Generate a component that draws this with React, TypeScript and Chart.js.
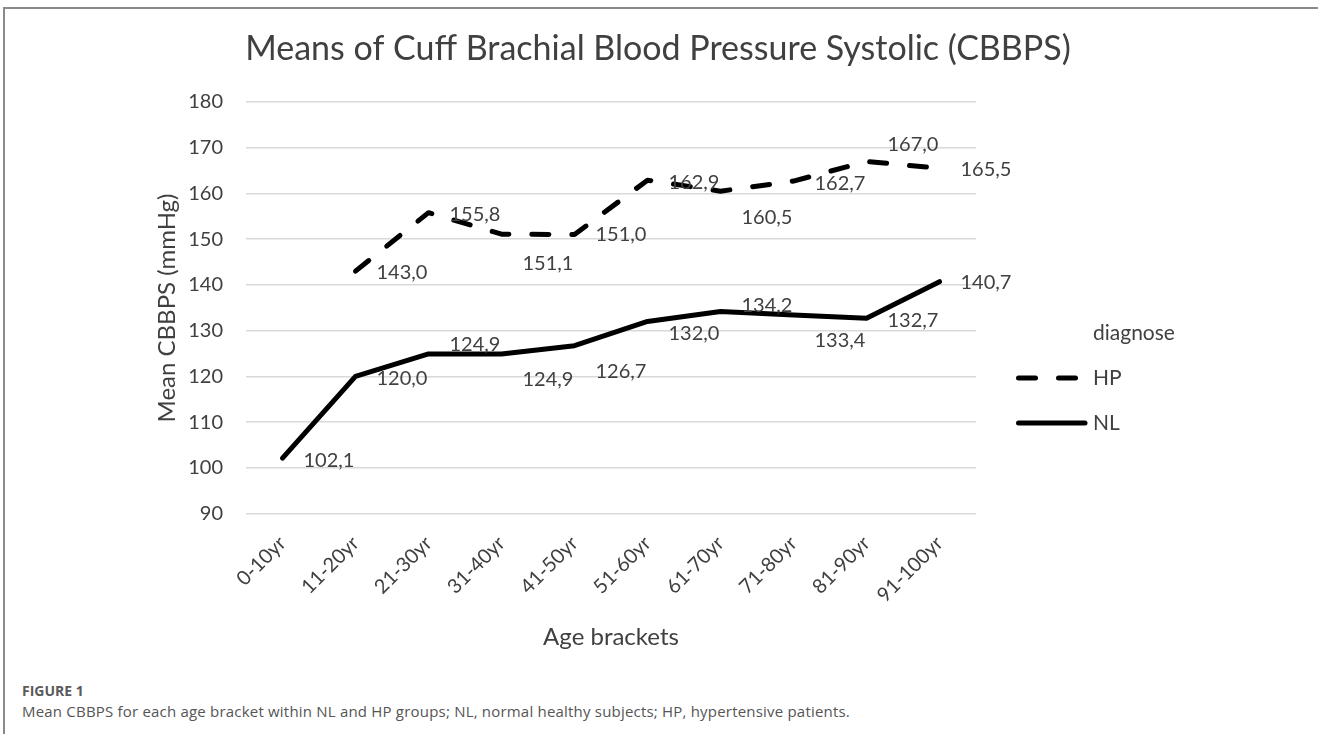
import React, { useEffect, useRef } from "react";
import { Chart, registerables } from "chart.js";

Chart.register(...registerables);

// ---- data ----
const ageBrackets = ["0-10yr", "11-20yr", "21-30yr", "31-40yr", "41-50yr", "51-60yr", "61-70yr", "71-80yr", "81-90yr", "91-100yr"];
const hpValues: (number | null)[] = [null, 143.0, 155.8, 151.1, 151.0, 162.9, 160.5, 162.7, 167.0, 165.5];
const nlValues: number[] = [102.1, 120.0, 124.9, 124.9, 126.7, 132.0, 134.2, 133.4, 132.7, 140.7];
const seriesNames = ["HP", "NL"];
const yMin = 90;
const yMax = 180;
const yStep = 10;
const chartTitle = "Means of Cuff Brachial Blood Pressure Systolic (CBBPS)";
const yAxisTitle = "Mean CBBPS (mmHg)";
const xAxisTitle = "Age brackets";
const legendTitle = "diagnose";
const figureLabel = "FIGURE 1";
const figureCaption = "Mean CBBPS for each age bracket within NL and HP groups; NL, normal healthy subjects; HP, hypertensive patients.";

// ---- label nudges (style, px) ----
const hpLabelShift = [0, 1, 2, 29, 0, 2, 26, 2, -17, 1];
const nlLabelShift = [2, 2, -9, 26, 26, 12, -6, 25, 2, 1];

const FONT = "Lato, 'Open Sans', sans-serif";
const TEXT = "#404040";
const DASH = [17, 23];

const fmt = (v: number) => v.toFixed(1).replace(".", ",");

const labelsPlugin = {
  id: "pointLabels",
  afterDatasetsDraw(chart: any) {
    const ctx = chart.ctx;
    ctx.save();
    ctx.font = `20px ${FONT}`;
    ctx.fillStyle = TEXT;
    ctx.textAlign = "left";
    ctx.textBaseline = "middle";
    chart.data.datasets.forEach((ds: any, i: number) => {
      const meta = chart.getDatasetMeta(i);
      const shifts = ds.labelShift || [];
      meta.data.forEach((pt: any, j: number) => {
        const v = ds.data[j];
        if (v == null) return;
        ctx.fillText(fmt(v), pt.x + 21, pt.y + (shifts[j] || 0));
      });
    });
    ctx.restore();
  },
};

const decorPlugin = {
  id: "decor",
  afterDraw(chart: any) {
    const ctx = chart.ctx;
    const area = chart.chartArea;
    ctx.save();
    ctx.fillStyle = TEXT;
    // title
    ctx.font = `34px ${FONT}`;
    ctx.textAlign = "center";
    ctx.textBaseline = "alphabetic";
    ctx.fillText(chartTitle, 658, 60);
    // x axis title
    ctx.font = `24px ${FONT}`;
    ctx.textBaseline = "middle";
    ctx.fillText(xAxisTitle, (area.left + area.right) / 2, 637);
    // y axis title
    ctx.save();
    ctx.translate(167, 308);
    ctx.rotate(-Math.PI / 2);
    ctx.fillText(yAxisTitle, 0, 0);
    ctx.restore();
    // legend
    ctx.font = `21px ${FONT}`;
    ctx.textAlign = "left";
    ctx.fillText(legendTitle, 1093, 333);
    const rows = [378, 423];
    chart.data.datasets.forEach((ds: any, i: number) => {
      const y = rows[i];
      ctx.save();
      ctx.strokeStyle = ds.borderColor;
      ctx.lineWidth = ds.borderWidth;
      ctx.lineCap = "round";
      ctx.setLineDash(ds.borderDash || []);
      ctx.beginPath();
      if (ds.borderDash && ds.borderDash.length) {
        ctx.moveTo(1018.5, y);
        ctx.lineTo(1078, y);
      } else {
        ctx.moveTo(1018.5, y);
        ctx.lineTo(1085, y);
      }
      ctx.stroke();
      ctx.restore();
      ctx.fillStyle = TEXT;
      ctx.fillText(ds.label, 1093, y);
    });
    ctx.restore();
  },
};

export default function App() {
  const ref = useRef<HTMLCanvasElement | null>(null);

  useEffect(() => {
    if (!ref.current) return;
    const chart = new Chart(ref.current, {
      type: "line",
      data: {
        labels: ageBrackets,
        datasets: [
          {
            label: seriesNames[0],
            data: hpValues,
            borderColor: "#000000",
            backgroundColor: "#000000",
            borderWidth: 5,
            borderDash: DASH,
            borderCapStyle: "round",
            borderJoinStyle: "round",
            pointRadius: 0,
            tension: 0,
            spanGaps: false,
            labelShift: hpLabelShift,
          } as any,
          {
            label: seriesNames[1],
            data: nlValues,
            borderColor: "#000000",
            backgroundColor: "#000000",
            borderWidth: 5,
            borderCapStyle: "round",
            borderJoinStyle: "round",
            pointRadius: 0,
            tension: 0,
            labelShift: nlLabelShift,
          } as any,
        ],
      },
      options: {
        responsive: false,
        animation: false,
        devicePixelRatio: 1,
        layout: { padding: { top: 102, left: 0, right: 342, bottom: 0 } },
        plugins: {
          legend: { display: false },
          title: { display: false },
          tooltip: { enabled: false },
        },
        scales: {
          x: {
            type: "category",
            offset: true,
            grid: { display: false, drawTicks: false },
            border: { display: false },
            ticks: {
              autoSkip: false,
              minRotation: 45,
              maxRotation: 45,
              padding: 18,
              color: TEXT,
              font: { family: FONT, size: 20 },
            },
            afterFit: (s: any) => {
              s.height = 166.5;
            },
          },
          y: {
            min: yMin,
            max: yMax,
            grid: { color: "#d9d9d9", lineWidth: 1.5, drawTicks: false },
            border: { display: false },
            ticks: {
              stepSize: yStep,
              padding: 23,
              color: TEXT,
              font: { family: FONT, size: 20 },
            },
            afterFit: (s: any) => {
              s.width = 246;
            },
          },
        },
      },
      plugins: [labelsPlugin, decorPlugin],
    });
    return () => chart.destroy();
  }, []);

  return (
    <div style={{ position: "absolute", left: 0, top: 0, width: 1318, height: 734, overflow: "hidden", background: "#fff" }}>
      <div
        style={{
          position: "absolute",
          left: 3,
          top: 7,
          width: 1400,
          height: 800,
          borderTop: "2px solid #8a8a8a",
          borderLeft: "2px solid #8a8a8a",
        }}
      />
      <canvas ref={ref} width={1318} height={680} style={{ position: "absolute", left: 0, top: 0, display: "block" }} />
      <div
        style={{
          position: "absolute",
          left: 22,
          top: 684,
          fontFamily: "'Open Sans', sans-serif",
          fontSize: 14,
          fontWeight: 700,
          lineHeight: 1,
          color: "#5a5a5a",
          whiteSpace: "nowrap",
        }}
      >
        {figureLabel}
      </div>
      <div
        style={{
          position: "absolute",
          left: 22,
          top: 704,
          fontFamily: "'Open Sans', sans-serif",
          fontSize: 15,
          lineHeight: 1,
          letterSpacing: 0.2,
          color: "#555555",
          whiteSpace: "nowrap",
        }}
      >
        {figureCaption}
      </div>
    </div>
  );
}
